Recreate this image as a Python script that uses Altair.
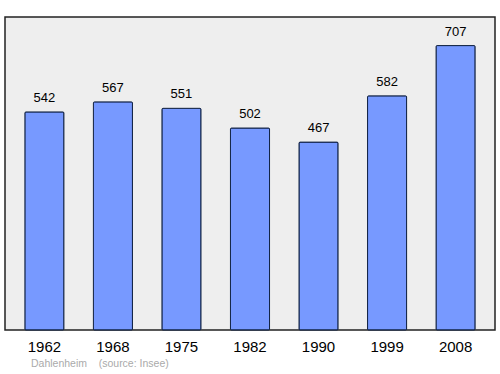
import altair as alt
import pandas as pd

years = ["1962", "1968", "1975", "1982", "1990", "1999", "2008"]
population = [542, 567, 551, 502, 467, 582, 707]

df = pd.DataFrame({"year": years, "pop": population})

x = alt.X("year:N", sort=years,
          scale=alt.Scale(paddingInner=0.43, paddingOuter=0.29),
          axis=alt.Axis(title=None, labelAngle=0, ticks=False, domain=False,
                        labelFontSize=15, labelFont="Liberation Sans",
                        labelColor="#000000", labelPadding=9))
y = alt.Y("pop:Q", scale=alt.Scale(domain=[0, 778], nice=False, zero=True),
          axis=None)

bars = alt.Chart(df).mark_bar(color="#7799ff", stroke="#112244",
                              strokeWidth=1, cornerRadius=1).encode(x=x, y=y)
labels = alt.Chart(df).mark_text(dy=-14, fontSize=13, font="Liberation Sans",
                                 color="#000000").encode(x=x, y=y, text="pop:Q")

chart = (bars + labels).properties(
    width=490, height=313,
    padding={"left": 5, "top": 17, "right": 5, "bottom": 44},
    autosize=alt.AutoSizeParams(type="none"),
    background="#ffffff",
    title=alt.TitleParams("Dahlenheim\u00a0\u00a0\u00a0\u00a0(source: Insee)", orient="bottom",
                          anchor="start", offset=5, fontSize=10.5,
                          font="Liberation Sans", fontWeight="normal",
                          color="#aaaaaa", dx=26),
).configure_view(fill="#eeeeee", stroke="#222222", strokeWidth=1.5)

chart.save("out.html", embed_options={"renderer": "svg", "actions": False})
